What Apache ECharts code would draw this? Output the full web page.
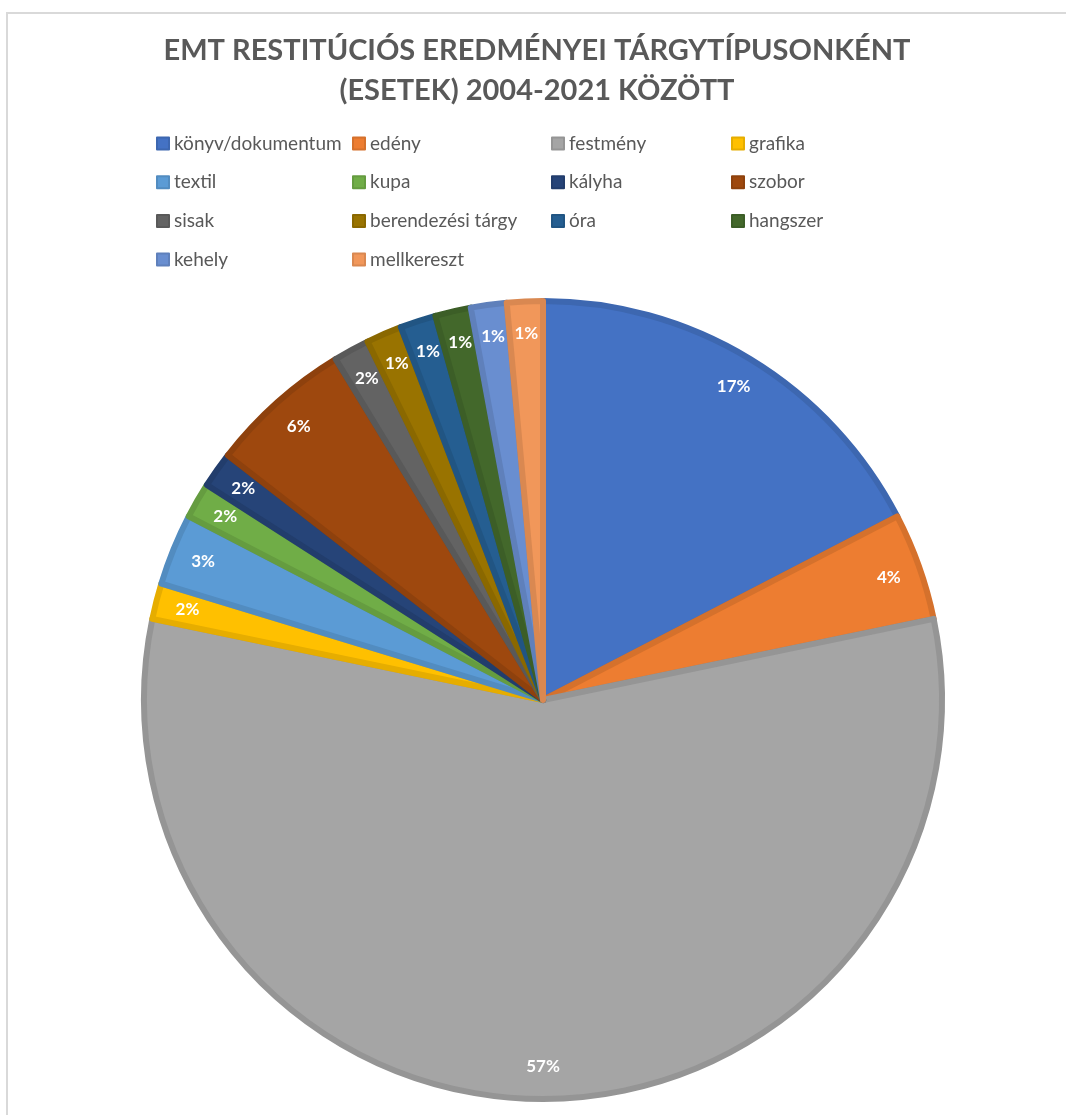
<!DOCTYPE html>
<html>
<head>
<meta charset="utf-8">
<script src="https://cdn.jsdelivr.net/npm/echarts@6/dist/echarts.min.js"></script>
<style>
  html, body { margin: 0; padding: 0; background: #fff; }
  #main { width: 1066px; height: 1115px; }
</style>
</head>
<body>
<div id="main"></div>
<script>
// targytipusok es esetszamok
var categories = ['könyv/dokumentum', 'edény', 'festmény', 'grafika', 'textil', 'kupa', 'kályha',
  'szobor', 'sisak', 'berendezési tárgy', 'óra', 'hangszer', 'kehely', 'mellkereszt'];
var cases = [12, 3, 39, 1, 2, 1, 1, 4, 1, 1, 1, 1, 1, 1];
var colors = ['#4472C4', '#ED7D31', '#A5A5A5', '#FFC000', '#5B9BD5', '#70AD47', '#264478',
  '#9E480E', '#636363', '#997300', '#255E91', '#43682B', '#698ED0', '#F1975A'];

// legend oszlopok (Excel elrendezes: soronkent 4)
var legendCols = [
  ['könyv/dokumentum', 'textil', 'sisak', 'kehely'],
  ['edény', 'kupa', 'berendezési tárgy', 'mellkereszt'],
  ['festmény', 'kályha', 'óra'],
  ['grafika', 'szobor', 'hangszer']
];
var legendLeft = [156, 352, 551, 731];

function darker(hex, f) {
  var n = parseInt(hex.slice(1), 16);
  var r = Math.round(((n >> 16) & 255) * f);
  var g = Math.round(((n >> 8) & 255) * f);
  var b = Math.round((n & 255) * f);
  return 'rgb(' + r + ',' + g + ',' + b + ')';
}

var pieData = categories.map(function (c, i) {
  return {
    name: c,
    value: cases[i],
    itemStyle: { color: colors[i], borderColor: darker(colors[i], 0.9) }
  };
});

var myChart = echarts.init(document.getElementById('main'));

myChart.setOption({
  color: colors,
  animation: false,
  title: {
    text: 'EMT RESTITÚCIÓS EREDMÉNYEI TÁRGYTÍPUSONKÉNT\n(ESETEK) 2004-2021 KÖZÖTT',
    left: 532,
    top: 26,
    textAlign: 'center',
    textStyle: {
      fontFamily: 'Lato',
      fontWeight: 'bold',
      fontSize: 29,
      lineHeight: 40,
      color: '#595959'
    }
  },
  legend: legendCols.map(function (col, i) {
    return {
      data: col,
      orient: 'vertical',
      left: legendLeft[i],
      top: 134,
      padding: 0,
      itemGap: 19.7,
      itemWidth: 12,
      itemHeight: 12,
      icon: 'rect',
      selectedMode: false,
      textStyle: { fontFamily: 'Lato', fontSize: 19, lineHeight: 19, color: '#595959' }
    };
  }),
  graphic: [{
    type: 'rect',
    shape: { x: 7, y: 13, width: 1200, height: 1300 },
    style: { fill: 'none', stroke: '#D9D9D9', lineWidth: 2 },
    silent: true
  }],
  series: [
    {
      type: 'pie',
      center: [543, 700],
      radius: [0, 399],
      startAngle: 90,
      clockwise: true,
      data: pieData,
      itemStyle: { borderWidth: 6, borderJoin: 'round' },
      label: { show: false },
      labelLine: { show: false },
      silent: true
    },
    {
      // csak a cimkek, a szelet kulso vegehez igazitva
      type: 'pie',
      center: [543, 700],
      radius: [329, 399],
      startAngle: 90,
      clockwise: true,
      percentPrecision: 0,
      data: categories.map(function (c, i) { return { name: c, value: cases[i] }; }),
      itemStyle: { color: 'rgba(0,0,0,0)', borderWidth: 0 },
      label: {
        show: true,
        position: 'inside',
        formatter: '{d}%',
        color: '#fff',
        fontFamily: 'Lato',
        fontWeight: 'bold',
        fontSize: 17
      },
      labelLine: { show: false },
      silent: true
    }
  ]
});
</script>
</body>
</html>
